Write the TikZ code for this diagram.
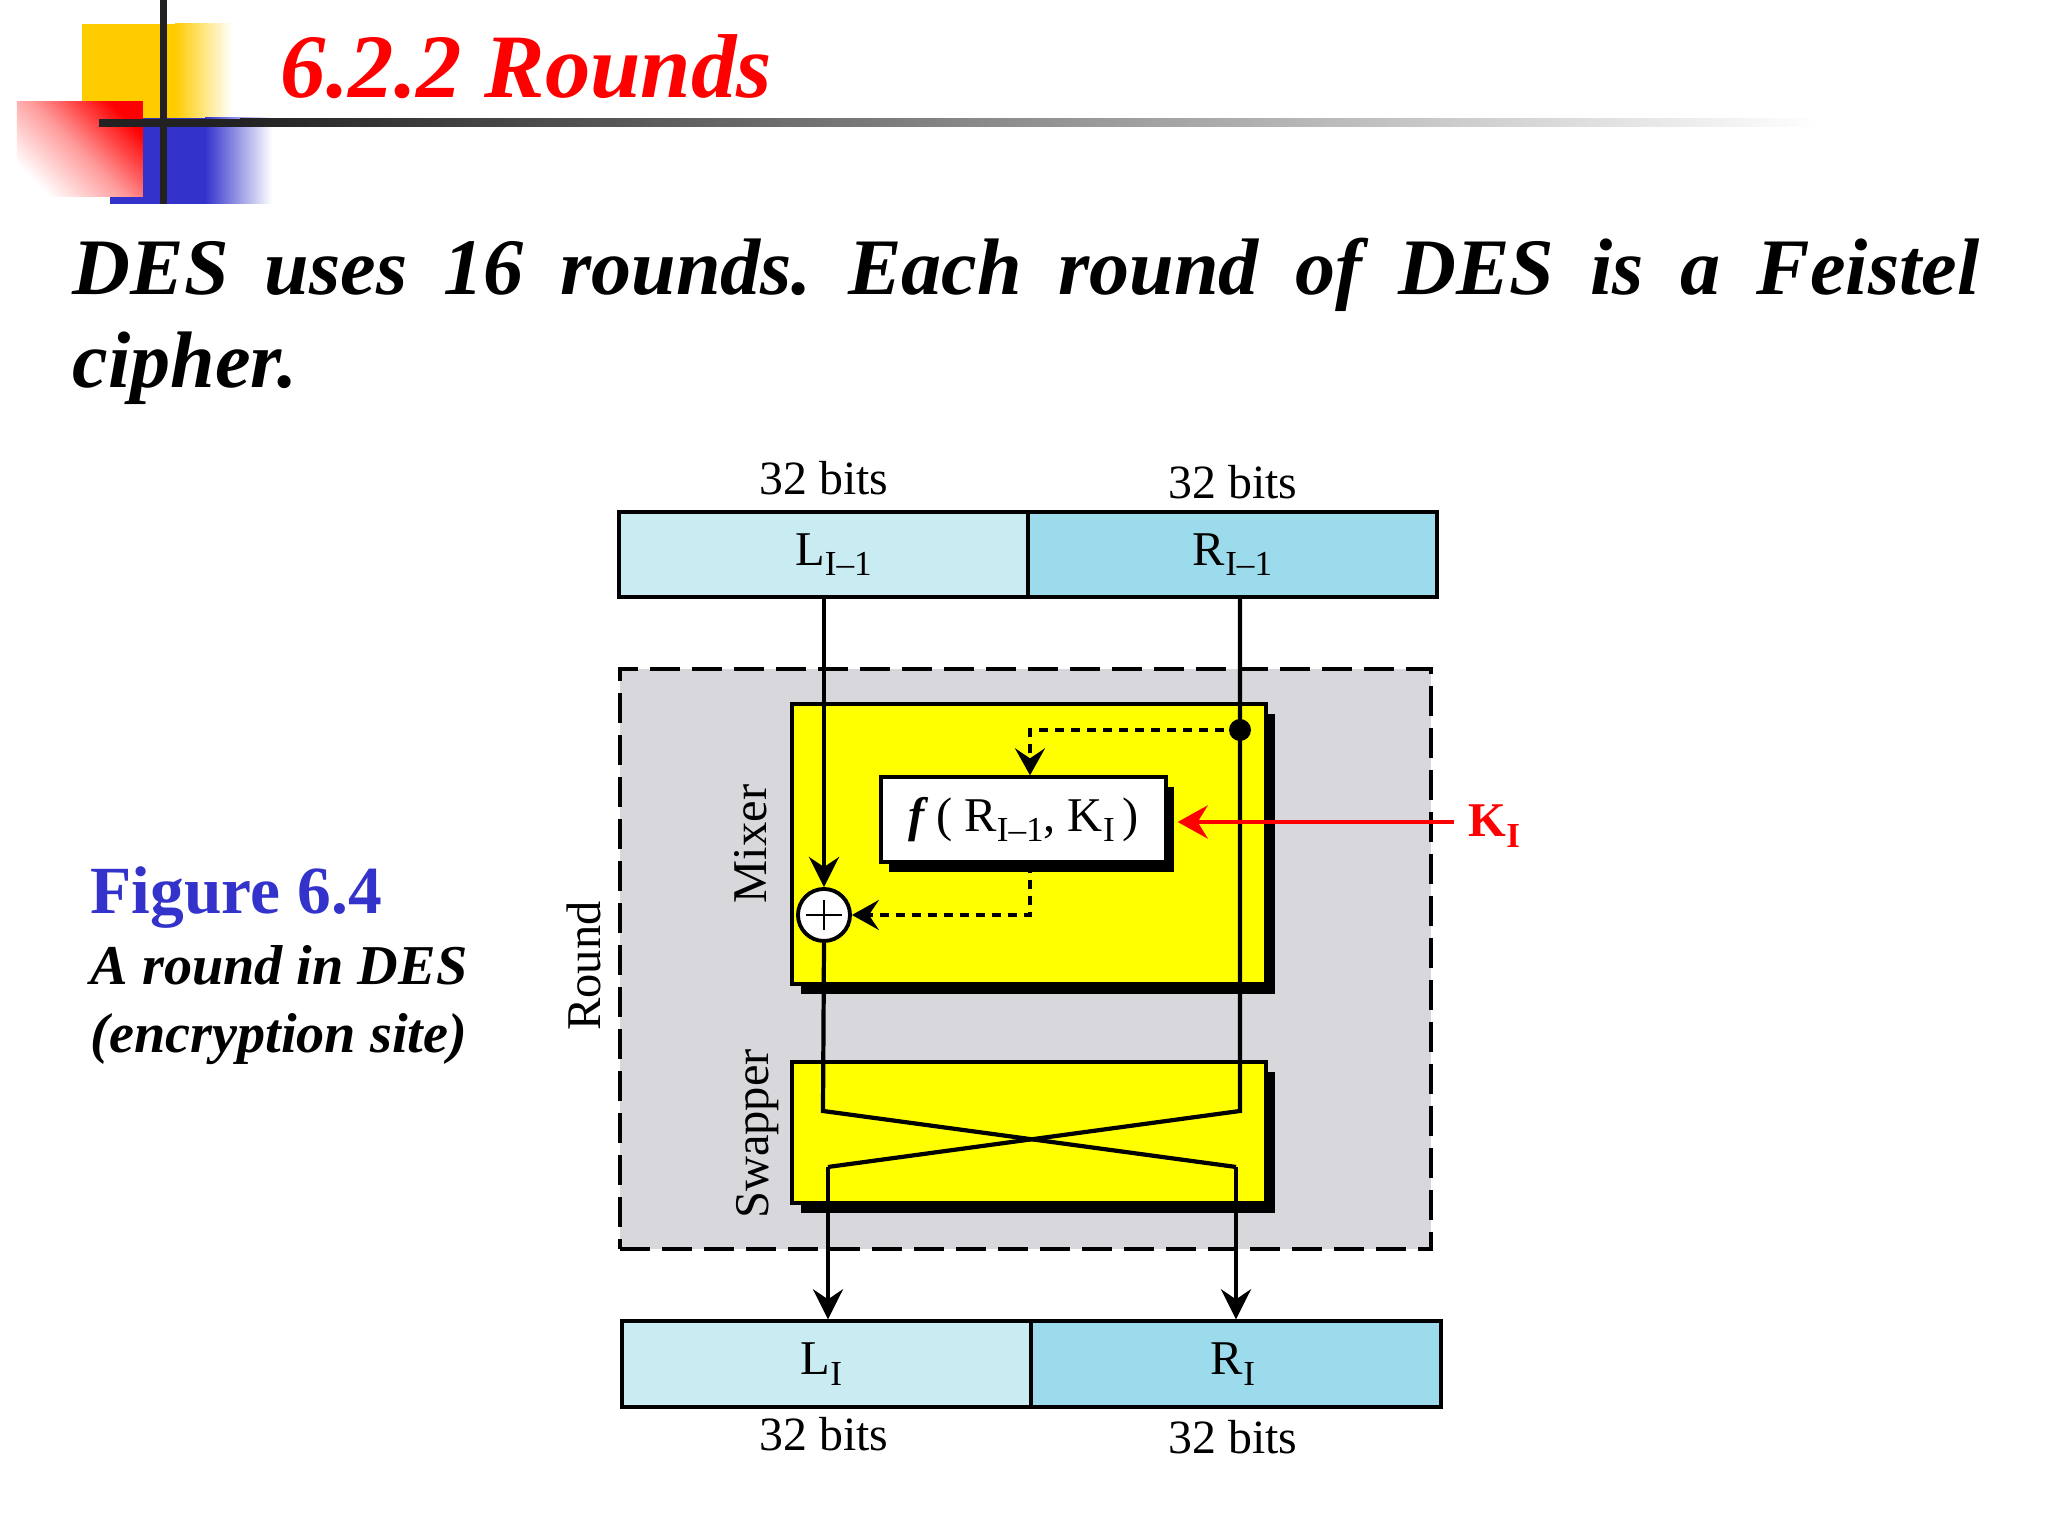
\documentclass[tikz,border=0pt]{standalone}
\usepackage{fontspec}
\setmainfont{Liberation Serif}
\usepackage{tikz}
\usetikzlibrary{arrows.meta}
\usetikzlibrary{shadows}
\definecolor{logoYellow}{RGB}{255,204,0}
\definecolor{logoBlue}{RGB}{51,51,204}
\definecolor{logoBar}{RGB}{34,34,34}
\definecolor{halfLight}{RGB}{201,235,242}
\definecolor{halfDark}{RGB}{155,219,235}
\definecolor{roundGray}{RGB}{216,216,220}
\definecolor{stageYellow}{RGB}{255,255,0}
\newcommand{\lowIdx}[1]{\raisebox{-3pt}{\fontsize{10}{12}\selectfont #1}}
\tikzset{halfLeft/.style={draw, line width=0.95pt, inner sep=0, minimum width=4.09cm, minimum height=0.85cm, fill=halfLight, font=\fontsize{13.8}{16}\selectfont}}
\tikzset{halfRight/.style={draw, line width=0.95pt, inner sep=0, minimum width=4.09cm, minimum height=0.85cm, fill=halfDark, font=\fontsize{13.8}{16}\selectfont}}
\tikzset{stageBox/.style={draw, line width=0.95pt, inner sep=0, minimum width=4.74cm, fill=stageYellow, drop shadow={shadow xshift=0.09cm, shadow yshift=-0.1cm, fill=black, opacity=1}}}
\tikzset{wire/.style={line width=1.2pt}}
\tikzset{wireTip/.style={wire, -{Stealth[length=0.3cm, width=0.3cm, inset=0.1cm]}}}
\tikzset{tapWire/.style={line width=0.9pt, dash pattern=on 0.09cm off 0.07cm, -{Stealth[length=0.27cm, width=0.3cm, inset=0.1cm]}}}
\tikzset{sideLabel/.style={rotate=90, font=\fontsize{13.8}{16}\selectfont}}
\tikzset{bitsLabel/.style={font=\fontsize{13.6}{16}\selectfont}}
\begin{document}
\begin{tikzpicture}
\useasboundingbox (0,0) rectangle (20.48,15.36);

\fill[logoYellow] (0.82,14.12) rectangle (1.75,15.12);
\shade[left color=logoYellow, right color=white] (1.75,14.12) rectangle (2.32,15.12);
\fill[logoBlue] (1.10,13.32) rectangle (2.05,14.18);
\shade[left color=logoBlue, right color=white] (2.05,13.32) rectangle (2.72,14.18);
\shade[top color=red, bottom color=white, middle color=red!40, shading angle=-45] (0.17,13.39) rectangle (1.43,14.34);
\fill[logoBar] (1.60,13.32) rectangle (1.67,15.36);
\fill[logoBar] (0.99,14.09) rectangle (2.40,14.17);
\shade[left color=logoBar, right color=white] (2.40,14.09) rectangle (18.20,14.17);

\node[anchor=base west, inner sep=0, text=red, font=\fontsize{25.8}{30}\selectfont\bfseries\itshape] (title) at (2.80,14.38) {6.2.2 Rounds};
\node[anchor=north west, inner sep=0, text width=19.07cm, align=justify, font=\fontsize{22.8}{26.7}\selectfont\bfseries\itshape] (intro) at (0.72,12.99) {\frenchspacing DES uses 16 rounds. Each round of DES is a Feistel \mbox{cipher.}};

\node[anchor=base west, inner sep=0, text=logoBlue, font=\fontsize{19.2}{23}\selectfont\bfseries] (figNum) at (0.90,6.22) {Figure 6.4};
\node[anchor=base west, inner sep=0, font=\fontsize{16}{19}\selectfont\bfseries\itshape] (figLineA) at (0.90,5.51) {A round in DES};
\node[anchor=base west, inner sep=0, font=\fontsize{16}{19}\selectfont\bfseries\itshape] (figLineB) at (0.90,4.83) {(encryption site)};

\node[bitsLabel] (bitsA) at (8.24,10.58) {32 bits};
\node[bitsLabel] (bitsB) at (12.33,10.54) {32 bits};
\node[halfLeft] (lTop) at (8.235,9.815) {\hspace{0.2cm}L\lowIdx{I–1}};
\node[halfRight] (rTop) at (12.325,9.815) {R\lowIdx{I–1}};

\node[draw, line width=1.2pt, dash pattern=on 0.3cm off 0.12cm, fill=roundGray, inner sep=0, minimum width=8.11cm, minimum height=5.80cm] (roundBox) at (10.255,5.77) {};
\node[sideLabel] (roundLabel) at (5.84,5.70) {Round};
\node[sideLabel] (mixerLabel) at (7.51,6.92) {Mixer};
\node[sideLabel] (swapperLabel) at (7.58,4.02) {Swapper};

\node[stageBox, minimum height=2.80cm] (mixer) at (10.29,6.92) {};
\node[stageBox, minimum height=1.41cm] (swapper) at (10.29,4.035) {};
\node[draw, line width=0.95pt, fill=white, inner sep=0, minimum width=2.85cm, minimum height=0.85cm, font=\fontsize{13.8}{16}\selectfont, drop shadow={shadow xshift=0.08cm, shadow yshift=-0.1cm, fill=black, opacity=1}] (fBox) at (10.235,7.165) {\textbf{\textit{f}}\,( R\lowIdx{I–1}, K\lowIdx{I}\,)};

\node[draw, line width=1.1pt, circle, fill=white, inner sep=0, minimum size=0.52cm] (xorGate) at (8.24,6.21) {};
\draw[line width=0.7pt] ([xshift=-0.18cm]xorGate.center) -- ([xshift=0.18cm]xorGate.center);
\draw[line width=0.7pt] ([yshift=-0.15cm]xorGate.center) -- ([yshift=0.15cm]xorGate.center);
\node[circle, fill=black, inner sep=0, minimum size=0.22cm] (tapDot) at (12.40,8.06) {};

\node[halfLeft, minimum width=4.09cm, minimum height=0.86cm] (lBot) at (8.265,1.72) {\hspace{-0.10cm}L\lowIdx{I}};
\node[halfRight, minimum width=4.10cm, minimum height=0.86cm] (rBot) at (12.36,1.72) {\hspace{-0.06cm}R\lowIdx{I}};
\node[bitsLabel] (bitsC) at (8.24,1.02) {32 bits};
\node[bitsLabel] (bitsD) at (12.33,0.99) {32 bits};

\coordinate (crossLa) at (8.23,4.25);
\coordinate (crossLb) at (12.36,3.69);
\coordinate (crossRa) at (12.40,4.25);
\coordinate (crossRb) at (8.28,3.69);
\coordinate (keyEnd) at (14.54,7.14);

\draw[wireTip] (xorGate |- lTop.south) -- (xorGate.north);
\draw[wire] (xorGate.south) -- (crossLa) -- (crossLb);
\draw[wireTip] (crossLb) -- (crossLb |- rBot.north);
\draw[wire] (tapDot |- rTop.south) -- (tapDot.center) -- (crossRa) -- (crossRb);
\draw[wireTip] (crossRb) -- (crossRb |- lBot.north);

\draw[tapWire] (tapDot.center) -| ([xshift=0.065cm]fBox.north);
\draw[tapWire] ([xshift=0.065cm]fBox.south) |- (xorGate.east);

\draw[red, line width=1.3pt, -{Stealth[length=0.3cm, width=0.33cm, inset=0.1cm]}] (keyEnd) -- ([xshift=0.1cm]keyEnd -| fBox.east);
\node[anchor=west, inner sep=0, text=red, font=\fontsize{13.8}{16}\selectfont\bfseries] (keyLabel) at (14.68,7.10) {K\lowIdx{I}};

\end{tikzpicture}
\end{document}
